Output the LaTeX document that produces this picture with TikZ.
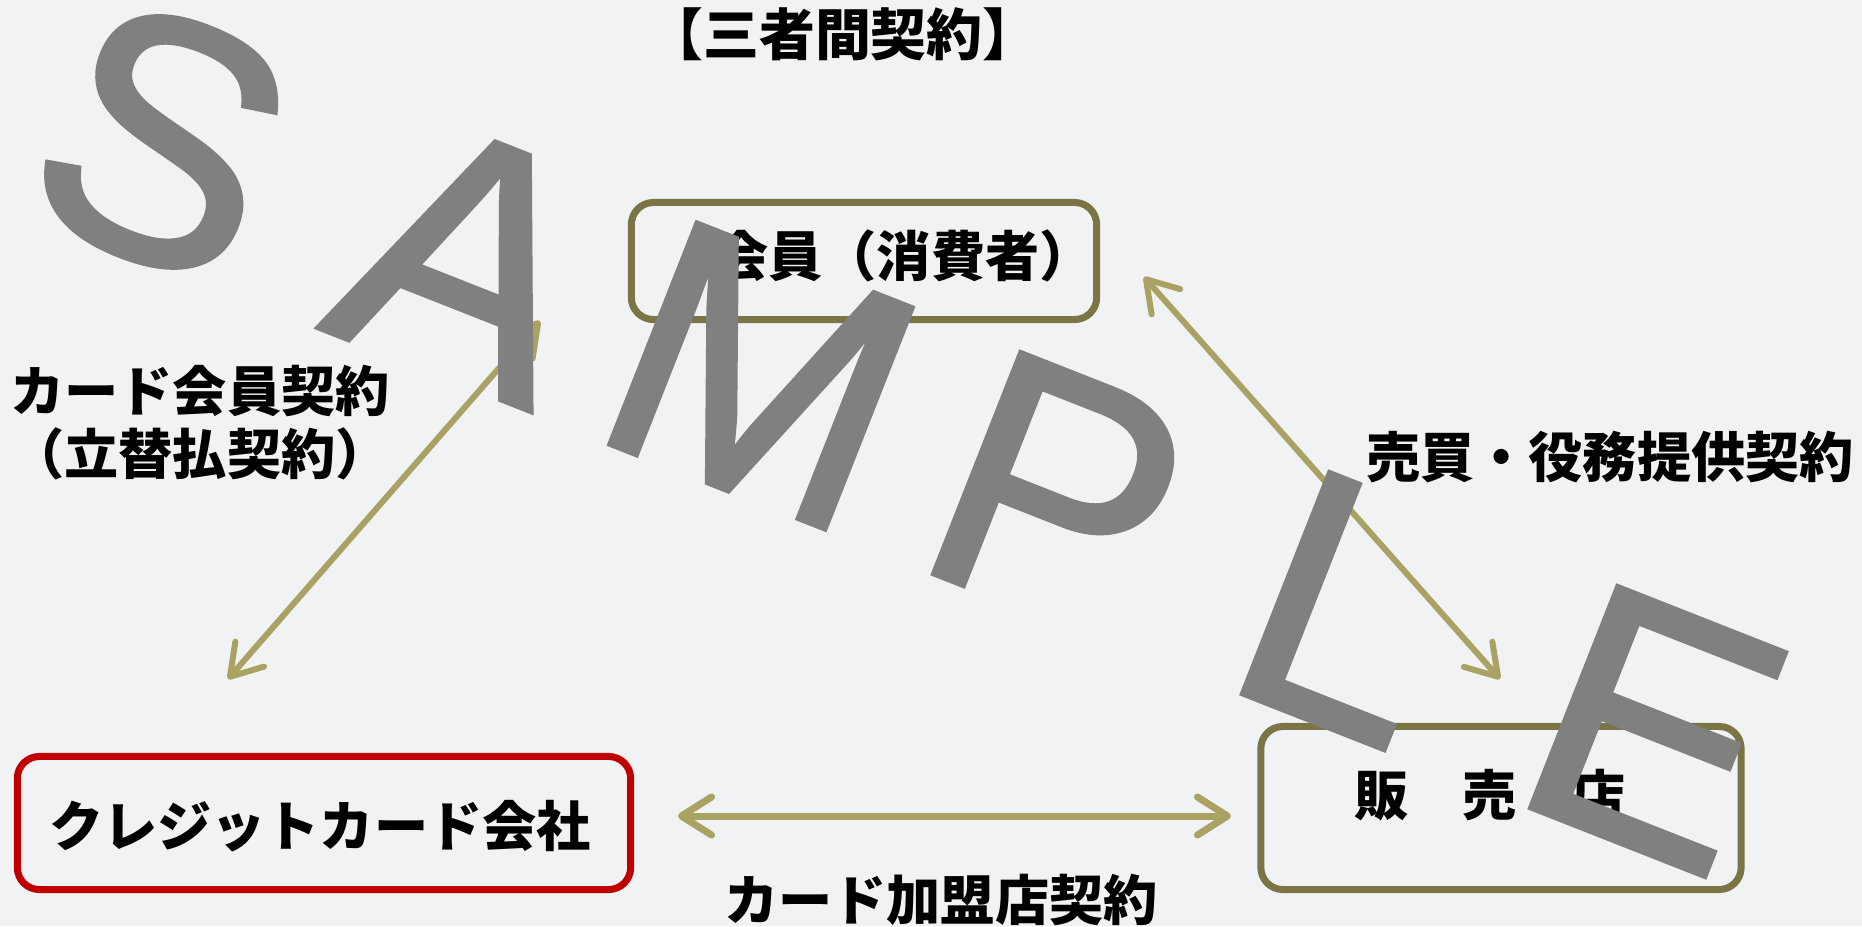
\documentclass[tikz,border=0pt]{standalone}
\usepackage{fontspec}
\usepackage{tikz}
\usetikzlibrary{arrows.meta}
\newfontfamily\jp{Noto Sans CJK JP}
\newfontface\wmfont{Liberation Sans}[FakeBold=1.4]
\definecolor{bgc}{HTML}{F1F2F4}
\definecolor{olivebox}{HTML}{7B7445}
\definecolor{redbox}{HTML}{C00000}
\definecolor{arrowc}{HTML}{A9A262}
\definecolor{wmgray}{HTML}{808080}
\newcommand*{\jpsize}{\fontsize{15.4pt}{17.9pt}\selectfont}

\begin{document}
\begin{tikzpicture}[x=0.01cm, y=-0.01cm,
  box/.style={draw, rounded corners=0.22cm, line width=0.07cm},
  lbl/.style={font=\jp\bfseries\jpsize, inner sep=0pt, align=center},
  pair/.style={draw=arrowc, line width=0.06cm, >={Straight Barb[length=0.3cm, width=0.38cm, round]}, <->},
  wm/.style={font=\wmfont\fontsize{98.4pt}{99pt}\selectfont, text=wmgray, inner sep=0pt, rotate=-21.5}]
 \path[use as bounding box, fill=bgc] (0,0) rectangle (1862,926);
 \node[lbl, font=\jp\bfseries\fontsize{15.9pt}{18pt}\selectfont] (title) at (843,34) {【三者間契約】};
 % the three parties
 \node[box, draw=olivebox, minimum width=4.65cm, minimum height=1.17cm] (member) at (864,261) {};
 \node[lbl] (membertxt) at (904,256) {会員（消費者）};
 \node[box, draw=redbox, minimum width=6.13cm, minimum height=1.33cm] (credit) at (324,823) {};
 \node[lbl] (credittxt) at (320,826) {クレジットカード会社};
 \node[box, draw=olivebox, minimum width=4.8cm, minimum height=1.63cm] (store) at (1501,808) {};
 \node[lbl] (storetxt) at (1490,795) {販　売　店};
 % contracts
 \node[lbl] (kaiin) at (200,423) {カード会員契約\\（立替払契約）};
 \node[lbl] (baibai) at (1610,457) {売買・役務提供契約};
 \node[lbl] (kamei) at (941,900) {カード加盟店契約};
 \coordinate (kaiintop) at (540,321);
 \coordinate (kaiinbot) at (228,679);
 \coordinate (baibaitop) at (1144,277);
 \coordinate (baibaibot) at (1500,679);
 \coordinate (kameileft) at (678,816);
 \coordinate (kameiright) at (1231,816);
 \draw[pair] (kaiintop) -- (kaiinbot);
 \draw[pair] (baibaitop) -- (baibaibot);
 \draw[pair, line width=0.07cm] (kameileft) -- (kameiright);
 % watermark
 \node[wm] (s) at (163,141) {S};
 \node[wm] (a) at (468,259) {A};
 \node[wm] (m) at (761,376) {M};
 \node[wm] (p) at (1058,495) {P};
 \node[wm] (l) at (1349,608) {L};
 \node[wm] (e) at (1655,729) {E};
\end{tikzpicture}
\end{document}
